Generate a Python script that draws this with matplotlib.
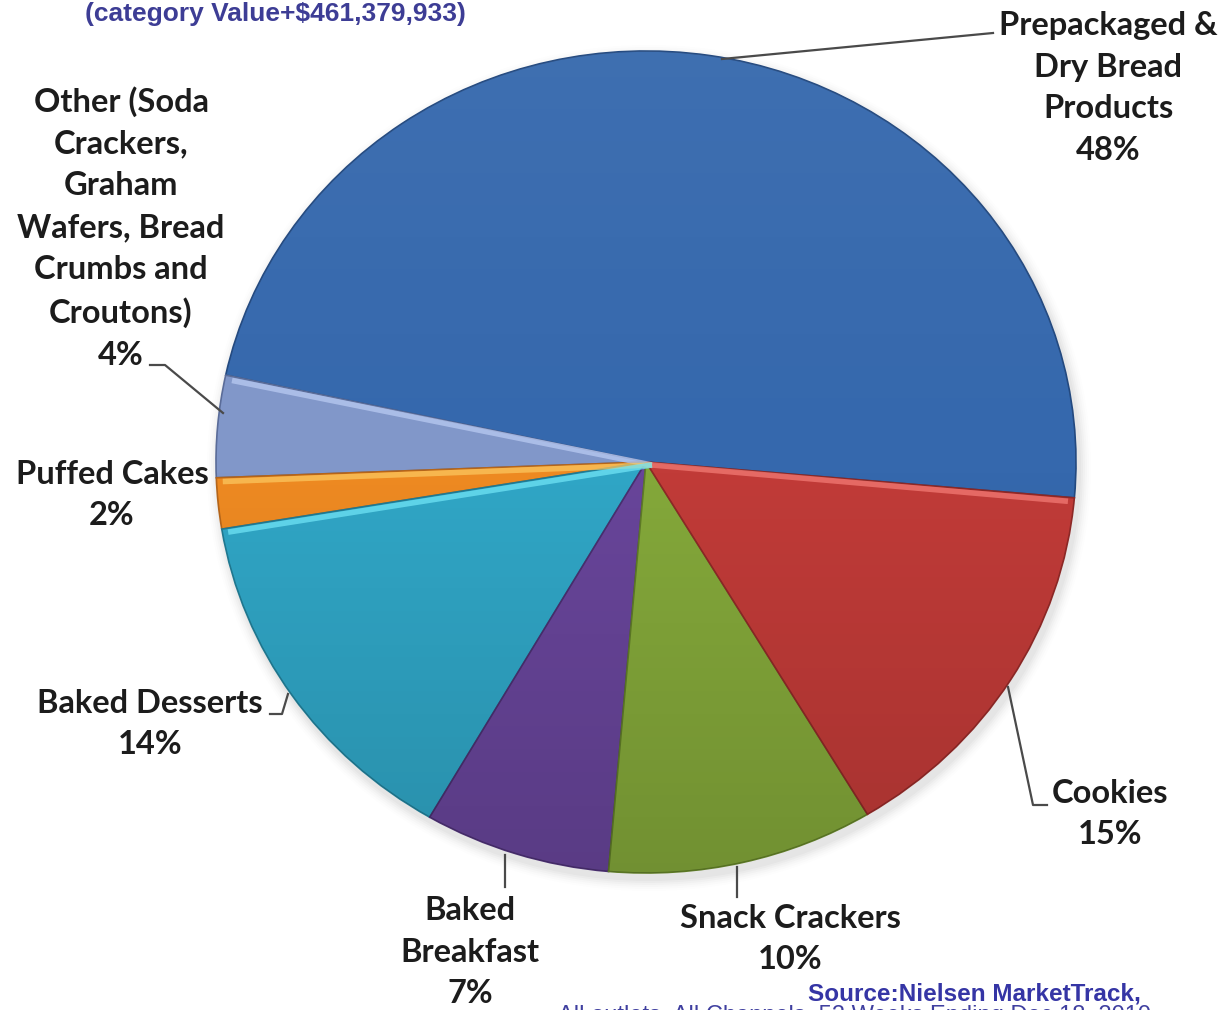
import numpy as np
import matplotlib
matplotlib.use("Agg")
import matplotlib.pyplot as plt
from matplotlib.patches import Ellipse
from matplotlib.transforms import Affine2D

# Category shares (percent), listed in drawing order
categories = [
    "Prepackaged &\nDry Bread\nProducts",
    "Other (Soda\nCrackers,\nGraham\nWafers, Bread\nCrumbs and\nCroutons)",
    "Puffed Cakes",
    "Baked Desserts",
    "Baked\nBreakfast",
    "Snack Crackers",
    "Cookies",
]
shares = [48, 4, 2, 14, 7, 10, 15]
colors = ["#3568AD", "#8197C9", "#EE8A22", "#30A6C6", "#68459A", "#84A83A", "#C13B38"]
edge_colors = ["#23497F", "#5A6C99", "#B5651A", "#217A92", "#4A2F70", "#5F7C27", "#8E2927"]

title_text = "(category Value+$461,379,933)"
source_text = "Source:Nielsen MarketTrack,"
source_text2 = "All outlets, All Channels, 52 Weeks Ending Dec 18, 2010"

W, H = 1226, 1010
fig = plt.figure(figsize=(W / 100, H / 100), dpi=100)
fig.patch.set_facecolor("white")
ax = fig.add_axes([0, 0, 1, 1])

cx, cy, R = 646, 462, 430
squash = 411 / 430  # slight tilt of the pie

wedges, _ = ax.pie(
    shares, colors=colors, startangle=5, counterclock=False,
    center=(cx, cy), radius=R,
    wedgeprops=dict(linewidth=1.2),
)
tilt = Affine2D().translate(-cx, -cy).scale(1, squash).translate(cx, cy) + ax.transData
for w, ec in zip(wedges, edge_colors):
    w.set_edgecolor(ec)
    w.set_transform(tilt)
    w.set_zorder(2)

# soft drop shadow beneath the pie
for i, a in enumerate(np.linspace(0.05, 0.015, 6)):
    sh = Ellipse((cx + 3, cy + 6), 2 * (R + 2 + 2 * i), 2 * (R * squash + 2 + 2 * i),
                 facecolor="#808080", edgecolor="none", alpha=a, zorder=1)
    ax.add_patch(sh)

# gentle top-to-bottom shading over the whole pie
g = np.linspace(0, 1, 256)
shade = np.zeros((256, 2, 4))
shade[:, :, :3] = np.where(g[:, None, None] < 0.5, 1.0, 0.0)
shade[:, :, 3] = np.abs(g - 0.5)[:, None] * np.where(g < 0.5, 0.10, 0.28)[:, None]
clip = Ellipse((cx, cy), 2 * R, 2 * R * squash, transform=ax.transData, facecolor="none", edgecolor="none")
ax.add_patch(clip)
im = ax.imshow(shade, extent=(cx - R, cx + R, cy + R * squash, cy - R * squash),
               aspect="auto", zorder=2.5, interpolation="bilinear")
im.set_clip_path(clip)

ax.set_aspect("auto")
ax.set_xlim(0, W)
ax.set_ylim(H, 0)
ax.axis("off")

# bevel highlights along the upper edge of some slices
bounds = np.concatenate([[0], np.cumsum(shares)]) / 100.0
def edge_point(frac, r=1.0):
    ang = np.deg2rad(-5 + 360 * frac)
    return cx + r * R * np.cos(ang), cy - r * R * squash * np.sin(ang)

highlights = [(0.0, "#F27A74"), (bounds[1], "#B9CAF2"), (bounds[2], "#FBC65E"), (bounds[3], "#6FE3F5")]
for frac, hc in highlights:
    x1, y1 = edge_point(frac, 0.985)
    ax.plot([cx + 6, x1], [cy + 3, y1 + 4], color=hc, lw=4, alpha=0.75,
            solid_capstyle="butt", zorder=3)

# labels
label_font = dict(family=["Lato", "DejaVu Sans"], fontweight="bold", fontsize=23.5,
                  color="#1C1C1C", ha="center", va="center", linespacing=1.53)
pct = [f"{v}%" for v in shares]
label_pos = [(1108, 88), (121, 228), (112, 495), (150, 724), (470, 952), (790, 939), (1110, 814)]
for name, p, (lx, ly) in zip(categories, pct, label_pos):
    ax.text(lx, ly, f"{name}\n{p}", **label_font, zorder=5)

# leader lines
leaders = [
    [(722, 59), (993, 33)],
    [(150, 365), (165, 365), (223, 413)],
    [(270, 714), (282, 714), (288, 694)],
    [(1008, 687), (1033, 805), (1047, 805)],
    [(505, 855), (505, 887)],
    [(737, 867), (737, 897)],
]
for pts in leaders:
    xs, ys = zip(*pts)
    ax.plot(xs, ys, color="#4A4A4A", lw=1.6, zorder=4)

ax.text(275, 14, title_text, family=["Liberation Sans", "DejaVu Sans"], fontweight="bold",
        fontsize=19, color="#3D3D95", ha="center", va="center")
ax.text(974, 994, source_text, family=["Liberation Sans", "DejaVu Sans"],
        fontweight="bold", fontsize=17.5, color="#3535A5", ha="center", va="center")
ax.text(855, 1005, source_text2, family=["Liberation Sans", "DejaVu Sans"],
        fontsize=17, color="#4040A0", ha="center", va="top")

fig.savefig("out.png", dpi=100, facecolor="white")
